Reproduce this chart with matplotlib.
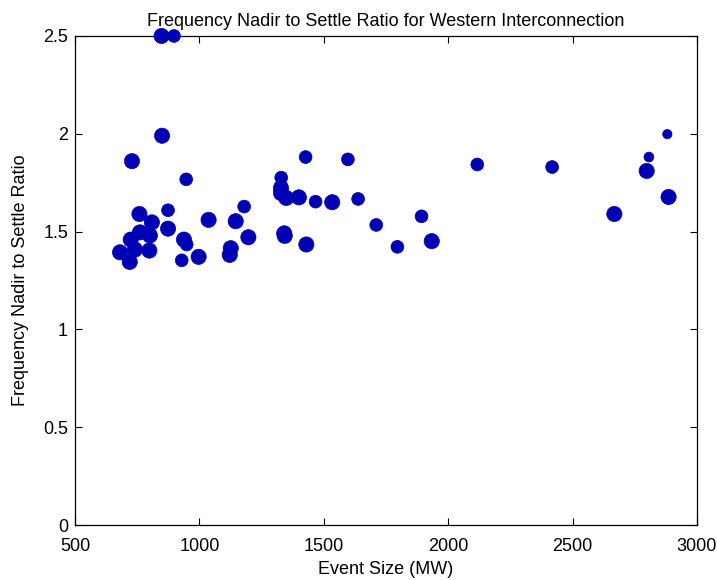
import matplotlib
matplotlib.use("Agg")
import matplotlib.pyplot as plt

# event size (MW), nadir/settle ratio, marker size class
event_mw = [848, 898, 850, 729, 947, 759, 874, 809, 761, 801,
            874, 724, 741, 681, 799, 720, 929, 997, 938, 949,
            1037, 1146, 1180, 1197, 1126, 1122, 1329, 1328, 1328, 1349,
            1400, 1427, 1467, 1534, 1341, 1343, 1430, 1597, 1638, 1711,
            1893, 1796, 1934, 2117, 2418, 2668, 2798, 2807, 2881, 2886]
ratio = [2.50, 2.50, 1.99, 1.86, 1.767, 1.59, 1.609, 1.547, 1.496, 1.48,
         1.515, 1.459, 1.408, 1.394, 1.403, 1.345, 1.353, 1.371, 1.459, 1.434,
         1.56, 1.553, 1.628, 1.471, 1.415, 1.381, 1.776, 1.723, 1.697, 1.672,
         1.675, 1.881, 1.653, 1.65, 1.491, 1.478, 1.434, 1.869, 1.667, 1.534,
         1.578, 1.422, 1.451, 1.843, 1.83, 1.59, 1.81, 1.881, 1.998, 1.677]
sizes = [120, 85, 120, 120, 85, 120, 85, 120, 120, 120,
         120, 120, 120, 120, 120, 120, 85, 120, 120, 85,
         120, 120, 85, 120, 120, 120, 85, 120, 120, 120,
         120, 85, 85, 120, 120, 120, 120, 85, 85, 85,
         85, 85, 120, 85, 85, 120, 120, 50, 45, 120]

plt.rcParams['font.family'] = ['Liberation Sans', 'DejaVu Sans']

fig = plt.figure(figsize=(7.17, 5.8), dpi=100)
ax = fig.add_axes([0.1046, 0.0948, 0.8674, 0.8432])
ax.scatter(event_mw, ratio, s=sizes, color='#0000b4', edgecolors='#0000b4',
           linewidths=0.5, clip_on=False, zorder=3)

ax.set_xlim(500, 3000)
ax.set_ylim(0, 2.5)
ax.set_xticks([500, 1000, 1500, 2000, 2500, 3000])
ax.set_yticks([0, 0.5, 1, 1.5, 2, 2.5])
ax.set_yticklabels(['0', '0.5', '1', '1.5', '2', '2.5'])
ax.tick_params(direction='in', top=True, right=True, labelsize=13, length=5)
ax.tick_params(axis='x', pad=9)
ax.tick_params(axis='y', pad=5)
for sp in ax.spines.values():
    sp.set_linewidth(0.9)

ax.set_title('Frequency Nadir to Settle Ratio for Western Interconnection', fontsize=13, pad=7)
ax.set_xlabel('Event Size (MW)', fontsize=13, labelpad=5)
ax.set_ylabel('Frequency Nadir to Settle Ratio', fontsize=13, labelpad=10)

fig.savefig('out.png', dpi=100)
